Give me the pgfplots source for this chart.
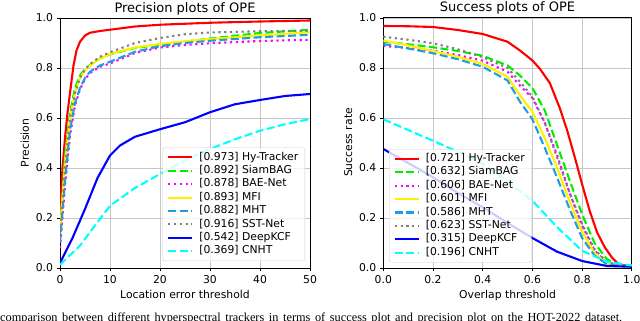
\documentclass[border=0pt]{standalone}
\usepackage{fontspec}
\setmainfont{DejaVu Sans}
\newfontfamily\capfont{Liberation Serif}
\usepackage{pgfplots}
\pgfplotsset{compat=1.18}

\definecolor{cHy}{HTML}{FF0000}
\definecolor{cBag}{HTML}{00EE00}
\definecolor{cBae}{HTML}{FF00FF}
\definecolor{cMfi}{HTML}{FFF000}
\definecolor{cMht}{HTML}{1F9CE6}
\definecolor{cSst}{HTML}{808080}
\definecolor{cDk}{HTML}{0000FF}
\definecolor{cCn}{HTML}{00FFFF}

% legend text that starts with a bracket
\newcommand\ent[2]{\lbrack{}#1\rbrack{} #2}

\pgfplotsset{
  ope/.style={
    scale only axis,
    axis line style={black, line width=0.8pt},
    grid=major,
    major grid style={black!22, line width=0.8pt},
    tick align=outside,
    tick pos=left,
    major tick length=3.5pt,
    tick style={black, line width=0.8pt},
    ymin=0,
    ytick={0,0.2,0.4,0.6,0.8,1},
    yticklabel style={/pgf/number format/.cd, fixed, fixed zerofill, precision=1},
    /pgf/number format/assume math mode=true,
    tick label style={font=\fontsize{10.8}{13}\selectfont},
    label style={font=\fontsize{10.8}{13}\selectfont},
    every axis title/.style={at={(0.5,1)}, anchor=base, yshift=5pt,
      font=\fontsize{13}{15.6}\selectfont},
    legend cell align=left,
    legend style={font=\fontsize{10.8}{13}\selectfont, draw=black!20, fill=white,
      fill opacity=0.8, text opacity=1, rounded corners=2pt, row sep=0.2pt,
      inner xsep=4.5pt, inner ysep=3pt,
      /tikz/every odd column/.append style={column sep=4pt},
      nodes={inner ysep=1.5pt, text height=7.8pt, text depth=2.4pt}},
    legend image code/.code={\draw[mark repeat=2,mark phase=2]
      plot coordinates {(0pt,0pt) (12pt,0pt) (24pt,0pt)};},
    every axis plot/.append style={line width=2.1pt},
  },
  hy/.style={color=cHy, solid},
  bag/.style={color=cBag, dash pattern=on 8pt off 3.5pt},
  bae/.style={color=cBae, dash pattern=on 2.2pt off 3.6pt},
  mfi/.style={color=cMfi, solid},
  mht/.style={color=cMht, dash pattern=on 8pt off 3.5pt},
  sst/.style={color=cSst, dash pattern=on 2.2pt off 3.6pt},
  dk/.style={color=cDk, solid},
  cn/.style={color=cCn, dash pattern=on 8pt off 3.5pt},
}

\begin{document}
\begin{tikzpicture}
\begin{axis}[ope,
  at={(60pt,53pt)}, anchor=south west,
  width=250pt, height=250pt,
  xmin=0, xmax=50, ymax=1,
  xtick={0,10,20,30,40,50},
  title={Precision plots of OPE},
  xlabel={Location error threshold},
  ylabel={Precision},
  legend style={at={(0.98,0.028)}, anchor=south east},
]
\addplot[hy] coordinates {(0,0.22)(0.5,0.4)(1,0.52)(1.5,0.62)(2,0.70)(2.7,0.81)(3.3,0.87)(4,0.905)(5,0.93)(6,0.941)(8,0.948)(10,0.953)(15,0.966)(20,0.973)(30,0.981)(40,0.986)(50,0.99)};
\addlegendentry{\ent{0.973}{Hy-Tracker}}
\addplot[bag] coordinates {(0,0.13)(1,0.45)(2,0.62)(3,0.72)(4,0.77)(5,0.795)(6,0.812)(8,0.838)(10,0.855)(15,0.88)(20,0.893)(25,0.905)(30,0.918)(40,0.94)(50,0.953)};
\addlegendentry{\ent{0.892}{SiamBAG}}
\addplot[bae] coordinates {(0,0.08)(1,0.33)(2,0.53)(3,0.65)(4,0.715)(5,0.755)(6,0.78)(8,0.805)(10,0.818)(15,0.86)(20,0.882)(25,0.892)(30,0.899)(40,0.908)(50,0.913)};
\addlegendentry{\ent{0.878}{BAE-Net}}
\addplot[mfi] coordinates {(0,0.15)(1,0.42)(2,0.6)(3,0.7)(4,0.76)(5,0.79)(6,0.81)(8,0.838)(10,0.856)(15,0.882)(20,0.896)(25,0.907)(30,0.916)(40,0.93)(50,0.943)};
\addlegendentry{\ent{0.893}{MFI}}
\addplot[mht] coordinates {(0,0.1)(1,0.35)(2,0.55)(3,0.66)(4,0.72)(5,0.76)(6,0.785)(8,0.81)(10,0.825)(15,0.865)(20,0.887)(25,0.9)(30,0.909)(40,0.923)(50,0.933)};
\addlegendentry{\ent{0.882}{MHT}}
\addplot[sst] coordinates {(0,0.12)(1,0.4)(2,0.6)(3,0.7)(4,0.76)(5,0.795)(6,0.815)(8,0.845)(10,0.863)(15,0.9)(20,0.92)(25,0.935)(30,0.942)(40,0.947)(50,0.949)};
\addlegendentry{\ent{0.916}{SST-Net}}
\addplot[dk] coordinates {(0,0.02)(2.5,0.12)(5,0.236)(7.5,0.36)(10,0.45)(12,0.49)(15,0.525)(20,0.555)(25,0.583)(30,0.623)(35,0.655)(40,0.672)(45,0.688)(50,0.696)};
\addlegendentry{\ent{0.542}{DeepKCF}}
\addplot[cn] coordinates {(0,0.013)(4,0.089)(7,0.17)(10,0.249)(15,0.32)(20,0.376)(25,0.43)(30,0.476)(35,0.515)(40,0.549)(45,0.575)(50,0.596)};
\addlegendentry{\ent{0.369}{CNHT}}
\end{axis}

\begin{axis}[ope,
  at={(383.3pt,53pt)}, anchor=south west,
  width=248.5pt, height=251pt,
  xmin=0, xmax=1, ymax=1.004,
  xtick={0,0.2,0.4,0.6,0.8,1},
  xticklabel style={/pgf/number format/.cd, fixed, fixed zerofill, precision=1},
  title={Success plots of OPE},
  xlabel={Overlap threshold},
  ylabel={Success rate},
  legend style={at={(0.023,0.022)}, anchor=south west},
]
\addplot[hy] coordinates {(0,0.968)(0.1,0.967)(0.2,0.964)(0.3,0.952)(0.4,0.936)(0.5,0.905)(0.55,0.87)(0.6,0.83)(0.63,0.797)(0.67,0.74)(0.71,0.64)(0.74,0.55)(0.77,0.445)(0.8,0.335)(0.83,0.23)(0.86,0.143)(0.89,0.085)(0.92,0.042)(0.95,0.012)(1,0.01)};
\addlegendentry{\ent{0.721}{Hy-Tracker}}
\addplot[bag] coordinates {(0,0.905)(0.1,0.895)(0.2,0.883)(0.3,0.868)(0.4,0.849)(0.5,0.81)(0.55,0.77)(0.6,0.72)(0.65,0.63)(0.7,0.49)(0.75,0.35)(0.8,0.215)(0.85,0.1)(0.9,0.035)(0.95,0.01)(1,0.01)};
\addlegendentry{\ent{0.632}{SiamBAG}}
\addplot[bae] coordinates {(0,0.888)(0.1,0.88)(0.2,0.869)(0.3,0.852)(0.4,0.829)(0.5,0.785)(0.55,0.73)(0.6,0.68)(0.65,0.58)(0.7,0.45)(0.75,0.3)(0.8,0.17)(0.85,0.07)(0.9,0.02)(0.95,0.01)(1,0.01)};
\addlegendentry{\ent{0.606}{BAE-Net}}
\addplot[mfi] coordinates {(0,0.91)(0.1,0.89)(0.2,0.867)(0.3,0.845)(0.4,0.816)(0.5,0.765)(0.55,0.69)(0.6,0.625)(0.65,0.52)(0.7,0.4)(0.75,0.265)(0.8,0.145)(0.85,0.06)(0.9,0.018)(0.95,0.008)(1,0.008)};
\addlegendentry{\ent{0.601}{MFI}}
\addplot[mht] coordinates {(0,0.896)(0.1,0.878)(0.2,0.859)(0.3,0.835)(0.4,0.805)(0.5,0.75)(0.55,0.665)(0.6,0.595)(0.65,0.48)(0.7,0.36)(0.75,0.235)(0.8,0.12)(0.85,0.05)(0.9,0.015)(0.95,0.008)(1,0.008)};
\addlegendentry{\ent{0.586}{MHT}}
\addplot[sst] coordinates {(0,0.925)(0.1,0.913)(0.2,0.899)(0.3,0.875)(0.4,0.843)(0.5,0.8)(0.55,0.745)(0.6,0.685)(0.65,0.58)(0.7,0.44)(0.75,0.3)(0.8,0.175)(0.85,0.075)(0.9,0.025)(0.95,0.01)(1,0.01)};
\addlegendentry{\ent{0.623}{SST-Net}}
\addplot[dk] coordinates {(0,0.476)(0.1,0.42)(0.2,0.363)(0.3,0.3)(0.4,0.243)(0.5,0.18)(0.6,0.12)(0.7,0.065)(0.8,0.028)(0.9,0.008)(1,0.005)};
\addlegendentry{\ent{0.315}{DeepKCF}}
\addplot[cn] coordinates {(0,0.595)(0.1,0.552)(0.2,0.509)(0.3,0.465)(0.4,0.416)(0.5,0.345)(0.6,0.269)(0.7,0.163)(0.8,0.069)(0.9,0.025)(1,0.01)};
\addlegendentry{\ent{0.196}{CNHT}}
\end{axis}

% caption of the page, cut by the lower edge as in the reference
\node[anchor=base west, inner sep=0pt, font=\capfont\fontsize{12.3}{14}\selectfont]
  at (0pt,-0.5pt) {\makebox[622pt][s]{comparison between different hyperspectral trackers in terms of success plot and precision plot on the HOT-2022 dataset.}};

\pgfresetboundingbox
\useasboundingbox (0pt,0pt) rectangle (640pt,321pt);
\end{tikzpicture}
\end{document}
